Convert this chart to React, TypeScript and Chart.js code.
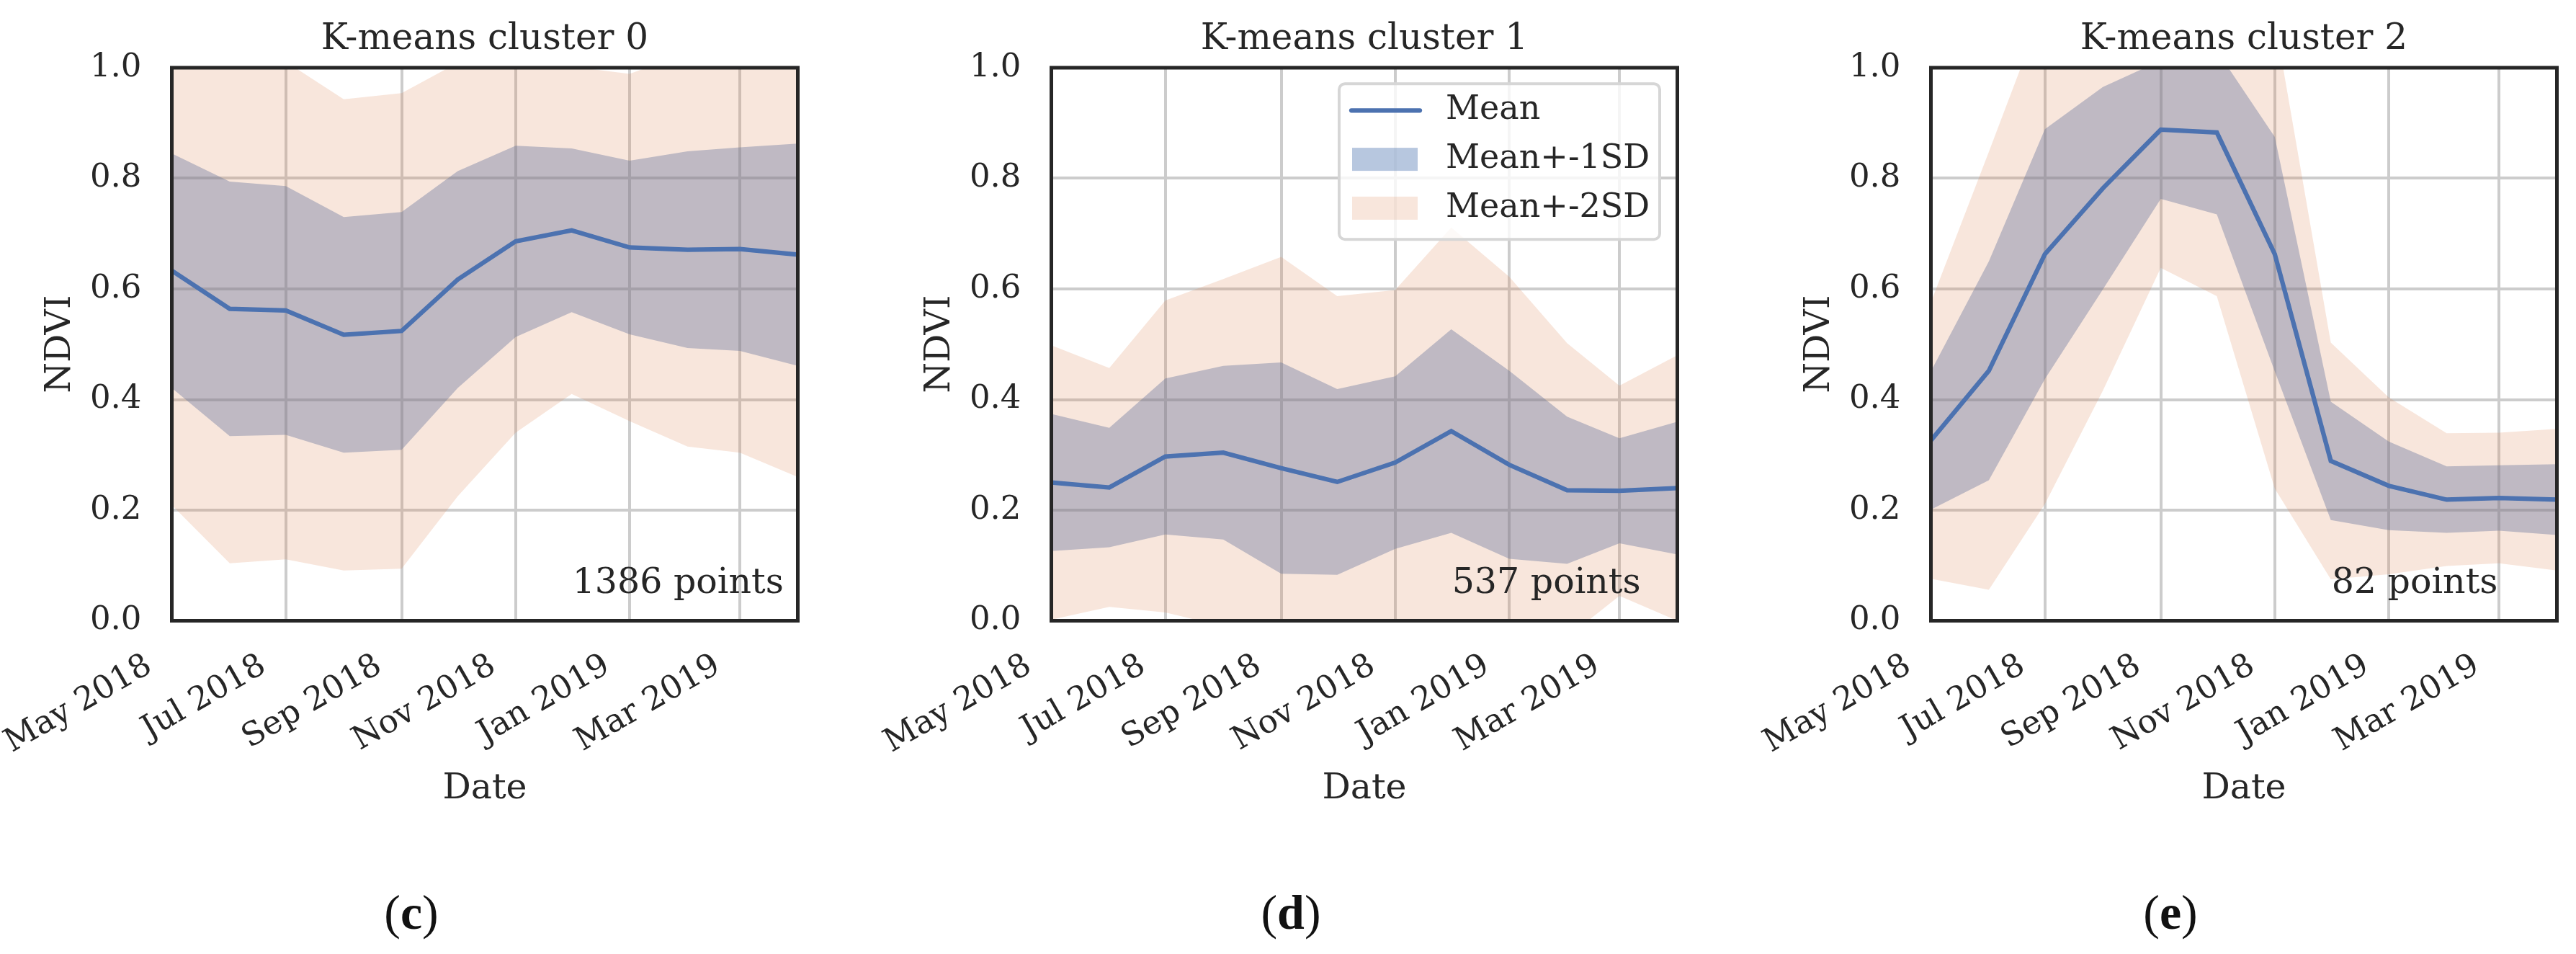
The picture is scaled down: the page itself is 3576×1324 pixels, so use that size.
import { useEffect, useRef } from 'react';
import { Chart, registerables } from 'chart.js';

Chart.register(...registerables);

// monthly composites, May 2018 .. Apr 2019
const monthDates = [
  '2018-05-01', '2018-06-01', '2018-07-01', '2018-08-01', '2018-09-01', '2018-10-01',
  '2018-11-01', '2018-12-01', '2019-01-01', '2019-02-01', '2019-03-01', '2019-04-01',
];
const tickDates = ['2018-05-01', '2018-07-01', '2018-09-01', '2018-11-01', '2019-01-01', '2019-03-01'];
const tickLabels = ['May 2018', 'Jul 2018', 'Sep 2018', 'Nov 2018', 'Jan 2019', 'Mar 2019'];
const yTicks = [0, 0.2, 0.4, 0.6, 0.8, 1.0];

const clusterTitles = ['K-means cluster 0', 'K-means cluster 1', 'K-means cluster 2'];
const pointCounts = [1386, 537, 82];
const panelLetters = ['c', 'd', 'e'];
const legendLabels = ['Mean', 'Mean+-1SD', 'Mean+-2SD'];

const cluster0Mean = [0.633, 0.564, 0.561, 0.517, 0.524, 0.617, 0.686, 0.706, 0.675, 0.671, 0.672, 0.662];
const cluster0Sd = [0.212, 0.230, 0.225, 0.213, 0.215, 0.196, 0.173, 0.148, 0.157, 0.178, 0.184, 0.201];

const cluster1Mean = [0.250, 0.241, 0.297, 0.304, 0.276, 0.251, 0.286, 0.343, 0.282, 0.236, 0.235, 0.240];
const cluster1Sd = [0.124, 0.108, 0.141, 0.157, 0.191, 0.168, 0.156, 0.184, 0.170, 0.133, 0.095, 0.120];

const cluster2Mean = [0.326, 0.452, 0.663, 0.782, 0.888, 0.883, 0.663, 0.289, 0.244, 0.219, 0.222, 0.219];
const cluster2Sd = [0.125, 0.198, 0.226, 0.183, 0.125, 0.148, 0.212, 0.107, 0.080, 0.060, 0.059, 0.064];

const FONT = '"DejaVu Serif", serif';
const INK = '#262626';
const GRID = '#cccccc';
const BLUE = '#4C72B0';
const BAND1 = 'rgba(76,114,176,0.4)';
const BAND2 = 'rgba(221,132,82,0.2)';

const dayOffset = (iso: string) => (Date.parse(iso) - Date.parse(monthDates[0])) / 86400000;

interface PanelProps {
  index: number;
  mean: number[];
  sd: number[];
  left: number;
  showLegend?: boolean;
}

function Panel({ index, mean, sd, left, showLegend }: PanelProps) {
  const canvasRef = useRef<HTMLCanvasElement>(null);

  useEffect(() => {
    if (!canvasRef.current) return;

    const xs = monthDates.map(dayOffset);
    const series = (vals: number[]) => vals.map((y, i) => ({ x: xs[i], y }));
    const band = (k: number) => series(mean.map((m, i) => m + k * sd[i]));

    const decor = {
      id: 'panelDecor',
      afterDatasetsDraw(chart: Chart) {
        const { ctx, chartArea: a } = chart;
        ctx.save();
        ctx.strokeStyle = INK;
        ctx.lineWidth = 5;
        ctx.strokeRect(a.left, a.top, a.right - a.left, a.bottom - a.top);
        ctx.restore();
      },
      afterDraw(chart: Chart) {
        const { ctx, chartArea: a } = chart;
        const w = a.right - a.left;
        const h = a.bottom - a.top;
        ctx.save();
        ctx.fillStyle = INK;
        ctx.textBaseline = 'alphabetic';

        ctx.font = `50px ${FONT}`;
        ctx.textAlign = 'center';
        ctx.fillText(clusterTitles[index], (a.left + a.right) / 2, 68);

        ctx.font = `49px ${FONT}`;
        ctx.textAlign = 'left';
        ctx.fillText(`${pointCounts[index]} points`, a.left + 0.64 * w, a.bottom - 0.05 * h);

        if (showLegend) {
          const bw = 445;
          const bh = 216;
          const bx = a.right - 24.5 - bw;
          const by = a.top + 22.3;
          ctx.beginPath();
          ctx.roundRect(bx, by, bw, bh, 8);
          ctx.fillStyle = 'rgba(255,255,255,0.8)';
          ctx.fill();
          ctx.strokeStyle = '#d6d6d6';
          ctx.lineWidth = 4;
          ctx.stroke();

          legendLabels.forEach((label, i) => {
            const cy = by + 37 + i * 67.8;
            if (i === 0) {
              ctx.strokeStyle = BLUE;
              ctx.lineWidth = 6.25;
              ctx.lineCap = 'round';
              ctx.beginPath();
              ctx.moveTo(bx + 17, cy);
              ctx.lineTo(bx + 112, cy);
              ctx.stroke();
            } else {
              ctx.fillStyle = i === 1 ? BAND1 : BAND2;
              ctx.fillRect(bx + 18, cy - 16, 91, 32);
            }
            ctx.fillStyle = INK;
            ctx.font = `46px ${FONT}`;
            ctx.textBaseline = 'middle';
            ctx.fillText(label, bx + 148, cy);
          });
        }
        ctx.restore();
      },
    };

    const hidden = { borderWidth: 0, borderColor: 'transparent', pointRadius: 0 };

    const chart = new Chart(canvasRef.current, {
      type: 'line',
      data: {
        datasets: [
          { label: legendLabels[0], data: series(mean), borderColor: BLUE, borderWidth: 6.25, pointRadius: 0, fill: false, tension: 0 },
          { label: legendLabels[2], data: band(2), ...hidden, backgroundColor: BAND2, fill: '+1' },
          { label: 'lower2', data: band(-2), ...hidden, fill: false },
          { label: legendLabels[1], data: band(1), ...hidden, backgroundColor: BAND1, fill: '+1' },
          { label: 'lower1', data: band(-1), ...hidden, fill: false },
        ],
      },
      options: {
        animation: false,
        responsive: true,
        maintainAspectRatio: false,
        layout: { padding: { top: 94, left: 0, right: 22.5, bottom: 0 } },
        plugins: {
          legend: { display: false },
          tooltip: { enabled: false },
        },
        scales: {
          x: {
            type: 'linear',
            bounds: 'data',
            min: 0,
            max: xs[xs.length - 1],
            afterBuildTicks: (axis) => {
              axis.ticks = tickDates.map((d) => ({ value: dayOffset(d) }));
            },
            afterFit: (axis) => {
              axis.height = 288.5;
            },
            ticks: {
              autoSkip: false,
              minRotation: 30,
              maxRotation: 30,
              padding: 36,
              labelOffset: -31,
              color: INK,
              font: { family: FONT, size: 45 },
              callback: (_v, i) => tickLabels[i],
            },
            grid: { color: GRID, lineWidth: 4, drawTicks: false },
            border: { display: false },
            title: {
              display: true,
              text: 'Date',
              color: INK,
              font: { family: FONT, size: 49 },
              padding: { top: 0, bottom: 25.6 },
            },
          },
          y: {
            type: 'linear',
            bounds: 'data',
            min: 0,
            max: 1,
            afterBuildTicks: (axis) => {
              axis.ticks = yTicks.map((v) => ({ value: v }));
            },
            afterFit: (axis) => {
              axis.width = 238.5;
            },
            ticks: {
              padding: 42,
              color: INK,
              font: { family: FONT, size: 45 },
              callback: (v) => Number(v).toFixed(1),
            },
            grid: { color: GRID, lineWidth: 4, drawTicks: false },
            border: { display: false },
            title: {
              display: true,
              text: 'NDVI',
              color: INK,
              font: { family: FONT, size: 49 },
              padding: { top: 54.6, bottom: 0 },
            },
          },
        },
      },
      plugins: [decor],
    });

    return () => chart.destroy();
  }, [index, mean, sd, showLegend]);

  return (
    <>
      <div style={{ position: 'absolute', left, top: 0, width: 1130, height: 1150 }}>
        <canvas ref={canvasRef} />
      </div>
      <div
        style={{
          position: 'absolute',
          left: left + 471,
          top: 1230,
          width: 200,
          lineHeight: '72px',
          textAlign: 'center',
          fontFamily: '"Liberation Serif", serif',
          fontSize: 68,
          color: '#111',
        }}
      >
        (<b>{panelLetters[index]}</b>)
      </div>
    </>
  );
}

export default function App() {
  return (
    <div
      style={{
        position: 'absolute',
        left: 0,
        top: 0,
        width: 3576,
        height: 1324,
        overflow: 'hidden',
        background: '#ffffff',
      }}
    >
      <Panel index={0} mean={cluster0Mean} sd={cluster0Sd} left={0} />
      <Panel index={1} mean={cluster1Mean} sd={cluster1Sd} left={1221} showLegend />
      <Panel index={2} mean={cluster2Mean} sd={cluster2Sd} left={2442} />
    </div>
  );
}
